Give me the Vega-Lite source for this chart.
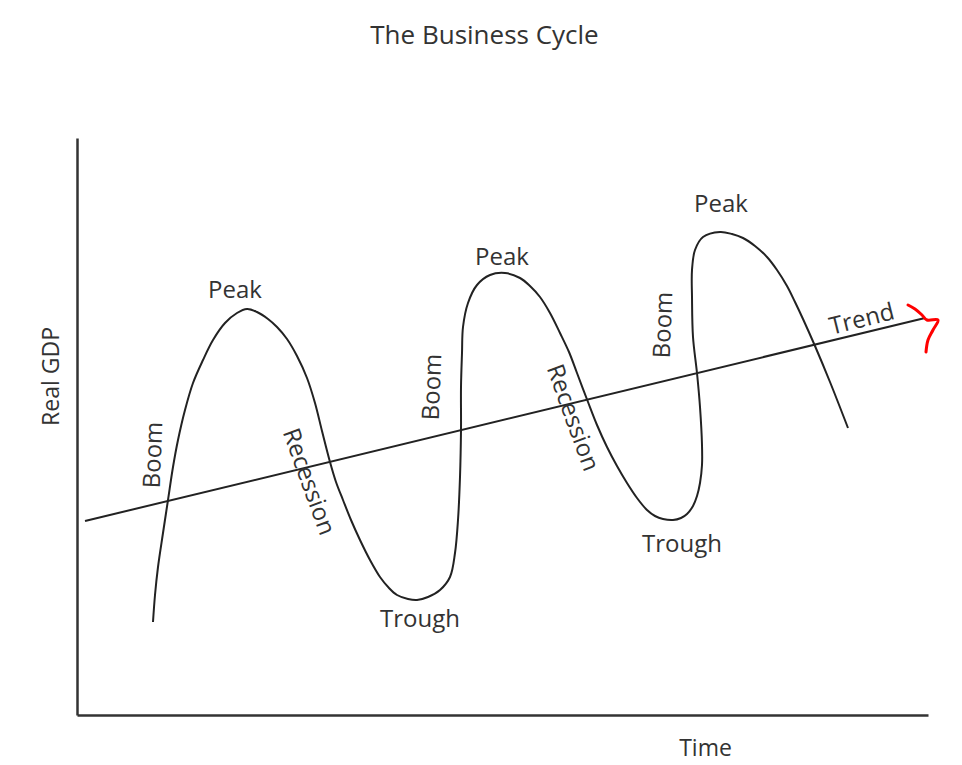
{
  "$schema": "https://vega.github.io/schema/vega-lite/v6.json",
  "width": 851,
  "height": 577,
  "autosize": {"type": "none"},
  "padding": {"left": 77, "top": 138, "right": 34, "bottom": 50},
  "background": "white",
  "title": {
    "text": "The Business Cycle",
    "font": "Open Sans",
    "fontSize": 26,
    "fontWeight": "normal",
    "color": "#333333",
    "anchor": "middle",
    "dx": -18,
    "baseline": "alphabetic",
    "offset": 68
  },
  "config": {
    "view": {"stroke": null},
    "axis": {
      "domainColor": "#333333",
      "domainWidth": 2.5,
      "ticks": false,
      "labels": false,
      "grid": false,
      "titleFont": "Open Sans",
      "titleFontSize": 23,
      "titleFontWeight": "normal",
      "titleColor": "#333333"
    }
  },
  "datasets": {
    "cycle": [
      {"i": 1, "x": 76, "y": 93}, {"i": 2, "x": 78, "y": 120}, {"i": 3, "x": 81, "y": 148}, {"i": 4, "x": 86, "y": 182},
      {"i": 5, "x": 91, "y": 215}, {"i": 6, "x": 96, "y": 248}, {"i": 7, "x": 101, "y": 275}, {"i": 8, "x": 108, "y": 305},
      {"i": 9, "x": 116, "y": 332}, {"i": 10, "x": 126, "y": 355}, {"i": 11, "x": 136, "y": 375}, {"i": 12, "x": 148, "y": 392},
      {"i": 13, "x": 160, "y": 402}, {"i": 14, "x": 170, "y": 406}, {"i": 15, "x": 180, "y": 403}, {"i": 16, "x": 191, "y": 396},
      {"i": 17, "x": 200, "y": 388}, {"i": 18, "x": 210, "y": 376}, {"i": 19, "x": 220, "y": 359}, {"i": 20, "x": 230, "y": 337},
      {"i": 21, "x": 238, "y": 312}, {"i": 22, "x": 245, "y": 284}, {"i": 23, "x": 253, "y": 253}, {"i": 24, "x": 259, "y": 233},
      {"i": 25, "x": 266, "y": 215}, {"i": 26, "x": 274, "y": 195}, {"i": 27, "x": 283, "y": 175}, {"i": 28, "x": 293, "y": 155},
      {"i": 29, "x": 303, "y": 138}, {"i": 30, "x": 312, "y": 127}, {"i": 31, "x": 320, "y": 120}, {"i": 32, "x": 331, "y": 116},
      {"i": 33, "x": 340, "y": 115}, {"i": 34, "x": 351, "y": 118}, {"i": 35, "x": 363, "y": 125}, {"i": 36, "x": 373, "y": 138},
      {"i": 37, "x": 378, "y": 162}, {"i": 38, "x": 381, "y": 195}, {"i": 39, "x": 383, "y": 238}, {"i": 40, "x": 384, "y": 285},
      {"i": 41, "x": 384, "y": 328}, {"i": 42, "x": 385, "y": 362}, {"i": 43, "x": 386, "y": 388}, {"i": 44, "x": 391, "y": 412},
      {"i": 45, "x": 400, "y": 430}, {"i": 46, "x": 413, "y": 440}, {"i": 47, "x": 428, "y": 442}, {"i": 48, "x": 443, "y": 437},
      {"i": 49, "x": 453, "y": 429}, {"i": 50, "x": 463, "y": 418}, {"i": 51, "x": 473, "y": 402}, {"i": 52, "x": 483, "y": 382},
      {"i": 53, "x": 492, "y": 363}, {"i": 54, "x": 500, "y": 342}, {"i": 55, "x": 511, "y": 313}, {"i": 56, "x": 520, "y": 290},
      {"i": 57, "x": 530, "y": 268}, {"i": 58, "x": 540, "y": 249}, {"i": 59, "x": 550, "y": 232}, {"i": 60, "x": 560, "y": 217},
      {"i": 61, "x": 570, "y": 205}, {"i": 62, "x": 578, "y": 199}, {"i": 63, "x": 586, "y": 196}, {"i": 64, "x": 596, "y": 195},
      {"i": 65, "x": 604, "y": 197}, {"i": 66, "x": 610, "y": 201}, {"i": 67, "x": 616, "y": 209}, {"i": 68, "x": 620, "y": 219},
      {"i": 69, "x": 623, "y": 232}, {"i": 70, "x": 625, "y": 250}, {"i": 71, "x": 625, "y": 270}, {"i": 72, "x": 623, "y": 308},
      {"i": 73, "x": 620, "y": 342}, {"i": 74, "x": 616, "y": 378}, {"i": 75, "x": 615, "y": 418}, {"i": 76, "x": 615, "y": 445},
      {"i": 77, "x": 618, "y": 465}, {"i": 78, "x": 626, "y": 478}, {"i": 79, "x": 643, "y": 483}, {"i": 80, "x": 655, "y": 481},
      {"i": 81, "x": 666, "y": 477}, {"i": 82, "x": 678, "y": 469}, {"i": 83, "x": 690, "y": 458}, {"i": 84, "x": 700, "y": 445},
      {"i": 85, "x": 710, "y": 429}, {"i": 86, "x": 718, "y": 413}, {"i": 87, "x": 726, "y": 396}, {"i": 88, "x": 738, "y": 369},
      {"i": 89, "x": 753, "y": 333}, {"i": 90, "x": 771, "y": 287}
    ],
    "trend": [
      {"i": 1, "x": 8, "y": 194},
      {"i": 2, "x": 848, "y": 397}
    ],
    "arrow": [
      {"i": 1, "x": 831, "y": 410}, {"i": 2, "x": 838, "y": 406}, {"i": 3, "x": 845, "y": 400}, {"i": 4, "x": 850, "y": 395},
      {"i": 5, "x": 861, "y": 395}, {"i": 6, "x": 856, "y": 385}, {"i": 7, "x": 851, "y": 375}, {"i": 8, "x": 849, "y": 363}
    ],
    "labels": [
      {"label": "Peak", "x": 158, "y": 424},
      {"label": "Boom", "x": 77, "y": 260},
      {"label": "Recession", "x": 231, "y": 233},
      {"label": "Trough", "x": 343, "y": 95},
      {"label": "Boom", "x": 356, "y": 328},
      {"label": "Peak", "x": 425, "y": 457},
      {"label": "Recession", "x": 495, "y": 297},
      {"label": "Trough", "x": 605, "y": 170},
      {"label": "Boom", "x": 587, "y": 390},
      {"label": "Peak", "x": 644, "y": 510},
      {"label": "Trend", "x": 785, "y": 395}
    ]
  },
  "encoding": {
    "x": {
      "field": "x", "type": "quantitative",
      "scale": {"domain": [0, 851], "nice": false, "zero": false},
      "axis": {"title": "Time", "titleX": 628, "titleY": 33, "titleBaseline": "middle", "titleAlign": "center", "titleAnchor": null}
    },
    "y": {
      "field": "y", "type": "quantitative",
      "scale": {"domain": [0, 577], "nice": false, "zero": false},
      "axis": {"title": "Real GDP", "titleX": -26, "titleY": 238, "titleAngle": -90, "titleBaseline": "middle", "titleAlign": "center", "titleAnchor": null}
    }
  },
  "layer": [
    {
      "data": {"name": "trend"},
      "mark": {"type": "line", "color": "#222222", "strokeWidth": 2},
      "encoding": {"order": {"field": "i", "type": "quantitative"}}
    },
    {
      "data": {"name": "cycle"},
      "mark": {"type": "line", "color": "#222222", "strokeWidth": 2, "interpolate": "catmull-rom"},
      "encoding": {"order": {"field": "i", "type": "quantitative"}}
    },
    {
      "data": {"name": "arrow"},
      "mark": {"type": "line", "color": "#ff0000", "strokeWidth": 3, "interpolate": "catmull-rom", "strokeCap": "round", "strokeJoin": "round"},
      "encoding": {"order": {"field": "i", "type": "quantitative"}}
    },
    {
      "data": {"name": "labels"},
      "transform": [{"filter": "datum.label === 'Peak' || datum.label === 'Trough'"}],
      "mark": {"type": "text", "font": "Open Sans", "fontSize": 24, "color": "#333333", "align": "center", "baseline": "middle"},
      "encoding": {"text": {"field": "label"}}
    },
    {
      "data": {"name": "labels"},
      "transform": [{"filter": "datum.label === 'Boom'"}],
      "mark": {"type": "text", "font": "Open Sans", "fontSize": 24, "color": "#333333", "align": "center", "baseline": "middle", "angle": 272},
      "encoding": {"text": {"field": "label"}}
    },
    {
      "data": {"name": "labels"},
      "transform": [{"filter": "datum.label === 'Recession'"}],
      "mark": {"type": "text", "font": "Open Sans", "fontSize": 24, "color": "#333333", "align": "center", "baseline": "middle", "angle": 70},
      "encoding": {"text": {"field": "label"}}
    },
    {
      "data": {"name": "labels"},
      "transform": [{"filter": "datum.label === 'Trend'"}],
      "mark": {"type": "text", "font": "Open Sans", "fontSize": 24, "color": "#333333", "align": "center", "baseline": "middle", "angle": 346},
      "encoding": {"text": {"field": "label"}}
    }
  ]
}
